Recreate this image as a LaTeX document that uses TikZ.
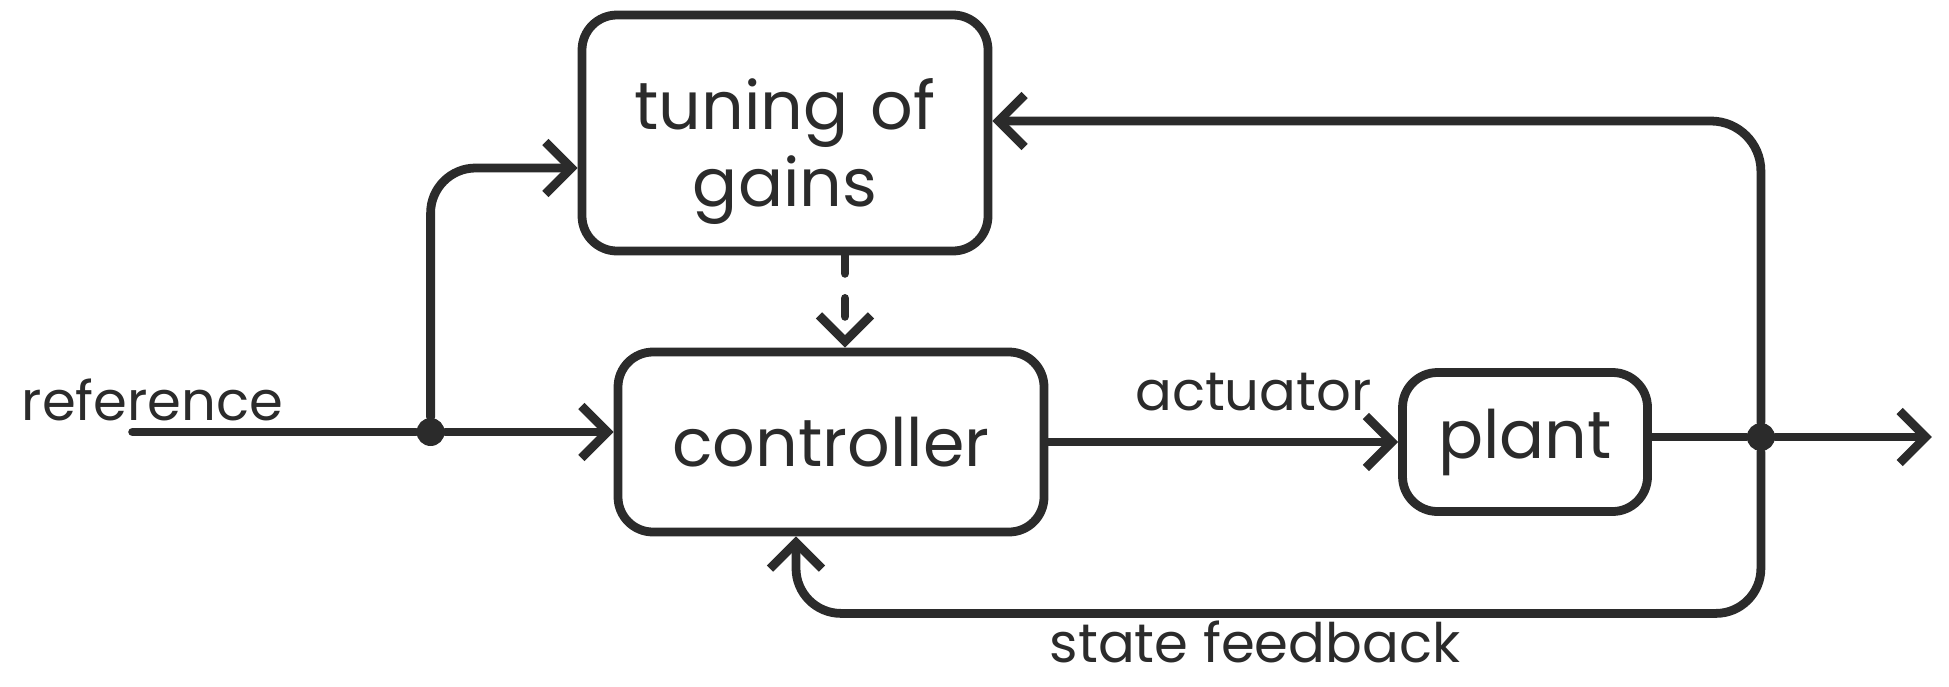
\documentclass[tikz,border=0pt]{standalone}
\usepackage{fontspec}
\setmainfont{Poppins}
\usetikzlibrary{arrows.meta,calc}
\definecolor{ink}{HTML}{2B2B2B}
\tikzstyle{blk}=[draw=ink, line width=2.5pt, rounded corners=0.35cm,
    text centered, text=ink, font=\fontsize{19}{22}\selectfont]
\tikzstyle{tune}=[blk, minimum width=4.06cm, minimum height=2.36cm,
    text width=3.8cm, text height=25pt]
\tikzstyle{ctrl}=[blk, minimum width=4.26cm, minimum height=1.8cm]
\tikzstyle{plnt}=[blk, minimum width=2.45cm, minimum height=1.39cm]
\tikzstyle{lbl}=[text=ink, font=\fontsize{15.5}{18}\selectfont]
\tikzstyle{wire}=[draw=ink, line width=2.5pt, line cap=round, line join=round,
    -{Straight Barb[length=2.6mm,width=5.2mm]}]
\tikzstyle{dot}=[circle, fill=ink, inner sep=0pt, minimum size=0.28cm]
\def\blockdist{3.09}

\begin{document}
\begin{tikzpicture}
    \useasboundingbox (0,0) rectangle (19.49,6.86);
    \node (tuning) [tune] at (7.85,5.53) {tuning of\\gains};
    \path (tuning.center)+(0.46,-\blockdist) node (controller) [ctrl] {controller};
    \path (controller.center)+(6.94,0) node (plant) [plnt] {plant};
    \path (controller.west)+(-4.81,0.1) coordinate (refin);
    \path (controller.west)+(-1.83,0.1) node (split) [dot] {};
    \path (plant.east)+(1.09,0.05) node (fb) [dot] {};
    \path (plant.east)+(2.8,0.05) coordinate (out);
    \path (refin)+(0.2,0.32) node (reflbl) [lbl] {reference};
    \path (controller.east)+(2.05,0.5) node (actlbl) [lbl] {actuator};
    \path (controller.south)+(4.24,-1.06) node (fblbl) [lbl] {state feedback};
    % forward path
    \draw[wire] (refin) -- (split) -- (split -| controller.west);
    \draw[wire] (controller) -- (plant);
    \draw[wire] (plant.east |- fb) -- (fb) -- (out);
    % gain tuning
    \draw[wire, rounded corners=0.45cm] (split) |- ([yshift=-0.35cm]tuning.west);
    \draw[wire, dash pattern=on 0.18cm off 0.25cm] ([xshift=0.6cm]tuning.south)
        -- ([xshift=0.6cm]tuning.south |- controller.north);
    % feedback
    \draw[wire, rounded corners=0.5cm] (fb) |- ([yshift=0.12cm]tuning.east);
    \draw[wire, rounded corners=0.45cm] (fb)
        |- ($(controller.south)+(-0.35,-0.77)$) -- ([xshift=-0.35cm]controller.south);
\end{tikzpicture}
\end{document}
